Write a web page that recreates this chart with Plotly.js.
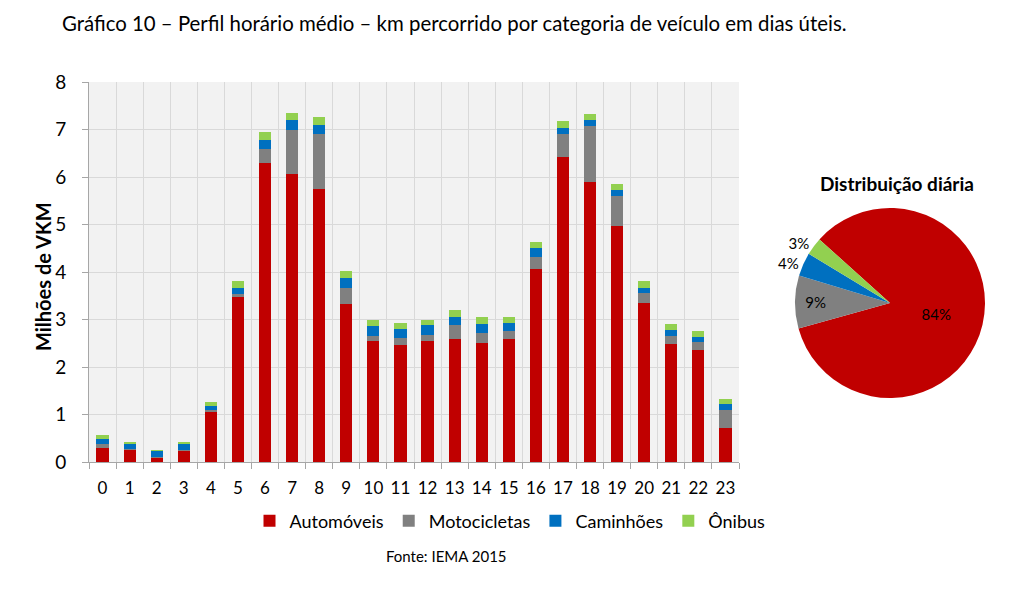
<!DOCTYPE html>
<html>
<head>
<meta charset="utf-8">
<script src="https://cdn.plot.ly/plotly-3.0.1.min.js"></script>
<style>html,body{margin:0;padding:0;background:#fff;}#chart{width:1024px;height:592px;}</style>
</head>
<body>
<div id="chart"></div>
<script>
// Hours of the day (category labels)
const horas = ['0','1','2','3','4','5','6','7','8','9','10','11','12','13','14','15','16','17','18','19','20','21','22','23'];
// Millions of VKM per hour, by vehicle category
const automoveis   = [0.30,0.25,0.09,0.23,1.06,3.47,6.29,6.06,5.75,3.32,2.55,2.47,2.54,2.59,2.51,2.58,4.06,6.42,5.89,4.96,3.35,2.49,2.36,0.71];
const motocicletas = [0.08,0.03,0.02,0.02,0.03,0.06,0.31,0.92,1.16,0.35,0.10,0.14,0.14,0.29,0.21,0.17,0.25,0.49,1.18,0.64,0.20,0.16,0.17,0.39];
const caminhoes    = [0.11,0.10,0.12,0.13,0.09,0.13,0.17,0.21,0.19,0.20,0.22,0.19,0.20,0.18,0.19,0.18,0.19,0.13,0.13,0.12,0.12,0.12,0.10,0.12];
const onibus       = [0.08,0.04,0.03,0.04,0.09,0.16,0.17,0.16,0.16,0.15,0.13,0.13,0.12,0.14,0.14,0.13,0.13,0.13,0.13,0.13,0.15,0.14,0.13,0.11];
// Daily distribution (percent)
const categorias = ['Automóveis','Motocicletas','Caminhões','Ônibus'];
const distribuicao = [84, 9, 4, 3];
const cores = ['#c00000','#808080','#0070c0','#92d050'];

const FONT = 'Lato, "Open Sans", sans-serif';
const series = [automoveis, motocicletas, caminhoes, onibus];

const traces = series.map((vals, i) => ({
  type: 'bar',
  name: categorias[i],
  x: horas,
  y: vals,
  marker: {color: cores[i], line: {width: 0}},
  xaxis: 'x', yaxis: 'y',
  hoverinfo: 'skip'
}));

traces.push({
  type: 'pie',
  labels: categorias,
  values: distribuicao,
  sort: false,
  direction: 'clockwise',
  rotation: -48,
  marker: {colors: cores, line: {width: 0}},
  texttemplate: '%{value}%',
  textposition: ['inside','inside','outside','outside'],
  insidetextorientation: 'horizontal',
  textfont: {family: FONT, size: 15, color: '#000'},
  showlegend: false,
  hoverinfo: 'skip',
  domain: {x: [795/1024, 985/1024], y: [194/592, 384/592]}
});

const layout = {
  width: 1024, height: 592,
  margin: {l: 0, r: 0, t: 0, b: 0},
  paper_bgcolor: '#ffffff',
  plot_bgcolor: '#f2f2f2',
  font: {family: FONT, color: '#000'},
  barmode: 'stack',
  bargap: 0.55,
  showlegend: true,
  title: {
    text: 'Gráfico 10 – Perfil horário médio – km percorrido por categoria de veículo em dias úteis.',
    font: {family: FONT, size: 20.4, color: '#000'},
    x: 62/1024, xanchor: 'left', xref: 'paper',
    y: 1 - 24/592, yanchor: 'middle', yref: 'paper'
  },
  xaxis: {
    type: 'category',
    domain: [89/1024, 739/1024],
    range: [-0.5, 23.5],
    tickson: 'boundaries',
    tickangle: 0,
    showgrid: true, gridcolor: '#d9d9d9', gridwidth: 1,
    ticks: 'outside', ticklen: 6, tickcolor: '#a6a6a6',
    showline: true, linecolor: '#a6a6a6', linewidth: 1,
    tickfont: {family: FONT, size: 17, color: '#000'},
    ticklabelstandoff: 11,
    fixedrange: true
  },
  yaxis: {
    domain: [130/592, 510/592],
    range: [0, 8],
    dtick: 1, tick0: 0,
    showgrid: true, gridcolor: '#d9d9d9', gridwidth: 1,
    zeroline: false,
    ticks: 'outside', ticklen: 6, tickcolor: '#a6a6a6',
    showline: true, linecolor: '#a6a6a6', linewidth: 1,
    tickfont: {family: FONT, size: 19, color: '#000'},
    ticklabelstandoff: 12,
    fixedrange: true
  },
  legend: {
    orientation: 'h',
    x: 510/1024, xanchor: 'center',
    y: 1 - 521/592, yanchor: 'middle',
    traceorder: 'normal',
    font: {family: FONT, size: 18, color: '#000'},
    itemwidth: 30,
    bgcolor: 'rgba(0,0,0,0)'
  },
  annotations: [
    {text: '<b>Milhões de VKM</b>', x: 43/1024, y: 1 - 277/592, xref: 'paper', yref: 'paper', textangle: -90,
     xanchor: 'center', yanchor: 'middle', showarrow: false, font: {family: FONT, size: 20, color: '#000'}},
    {text: '<b>Distribuição diária</b>', x: 897/1024, y: 1 - 183/592, xref: 'paper', yref: 'paper',
     xanchor: 'center', yanchor: 'middle', showarrow: false, font: {family: FONT, size: 19, color: '#000'}},
    {text: 'Fonte: IEMA 2015', x: 446/1024, y: 1 - 556/592, xref: 'paper', yref: 'paper',
     xanchor: 'center', yanchor: 'middle', showarrow: false, font: {family: FONT, size: 15, color: '#000'}}
  ]
};

Plotly.newPlot('chart', traces, layout, {displayModeBar: false, staticPlot: true});
</script>
</body>
</html>
